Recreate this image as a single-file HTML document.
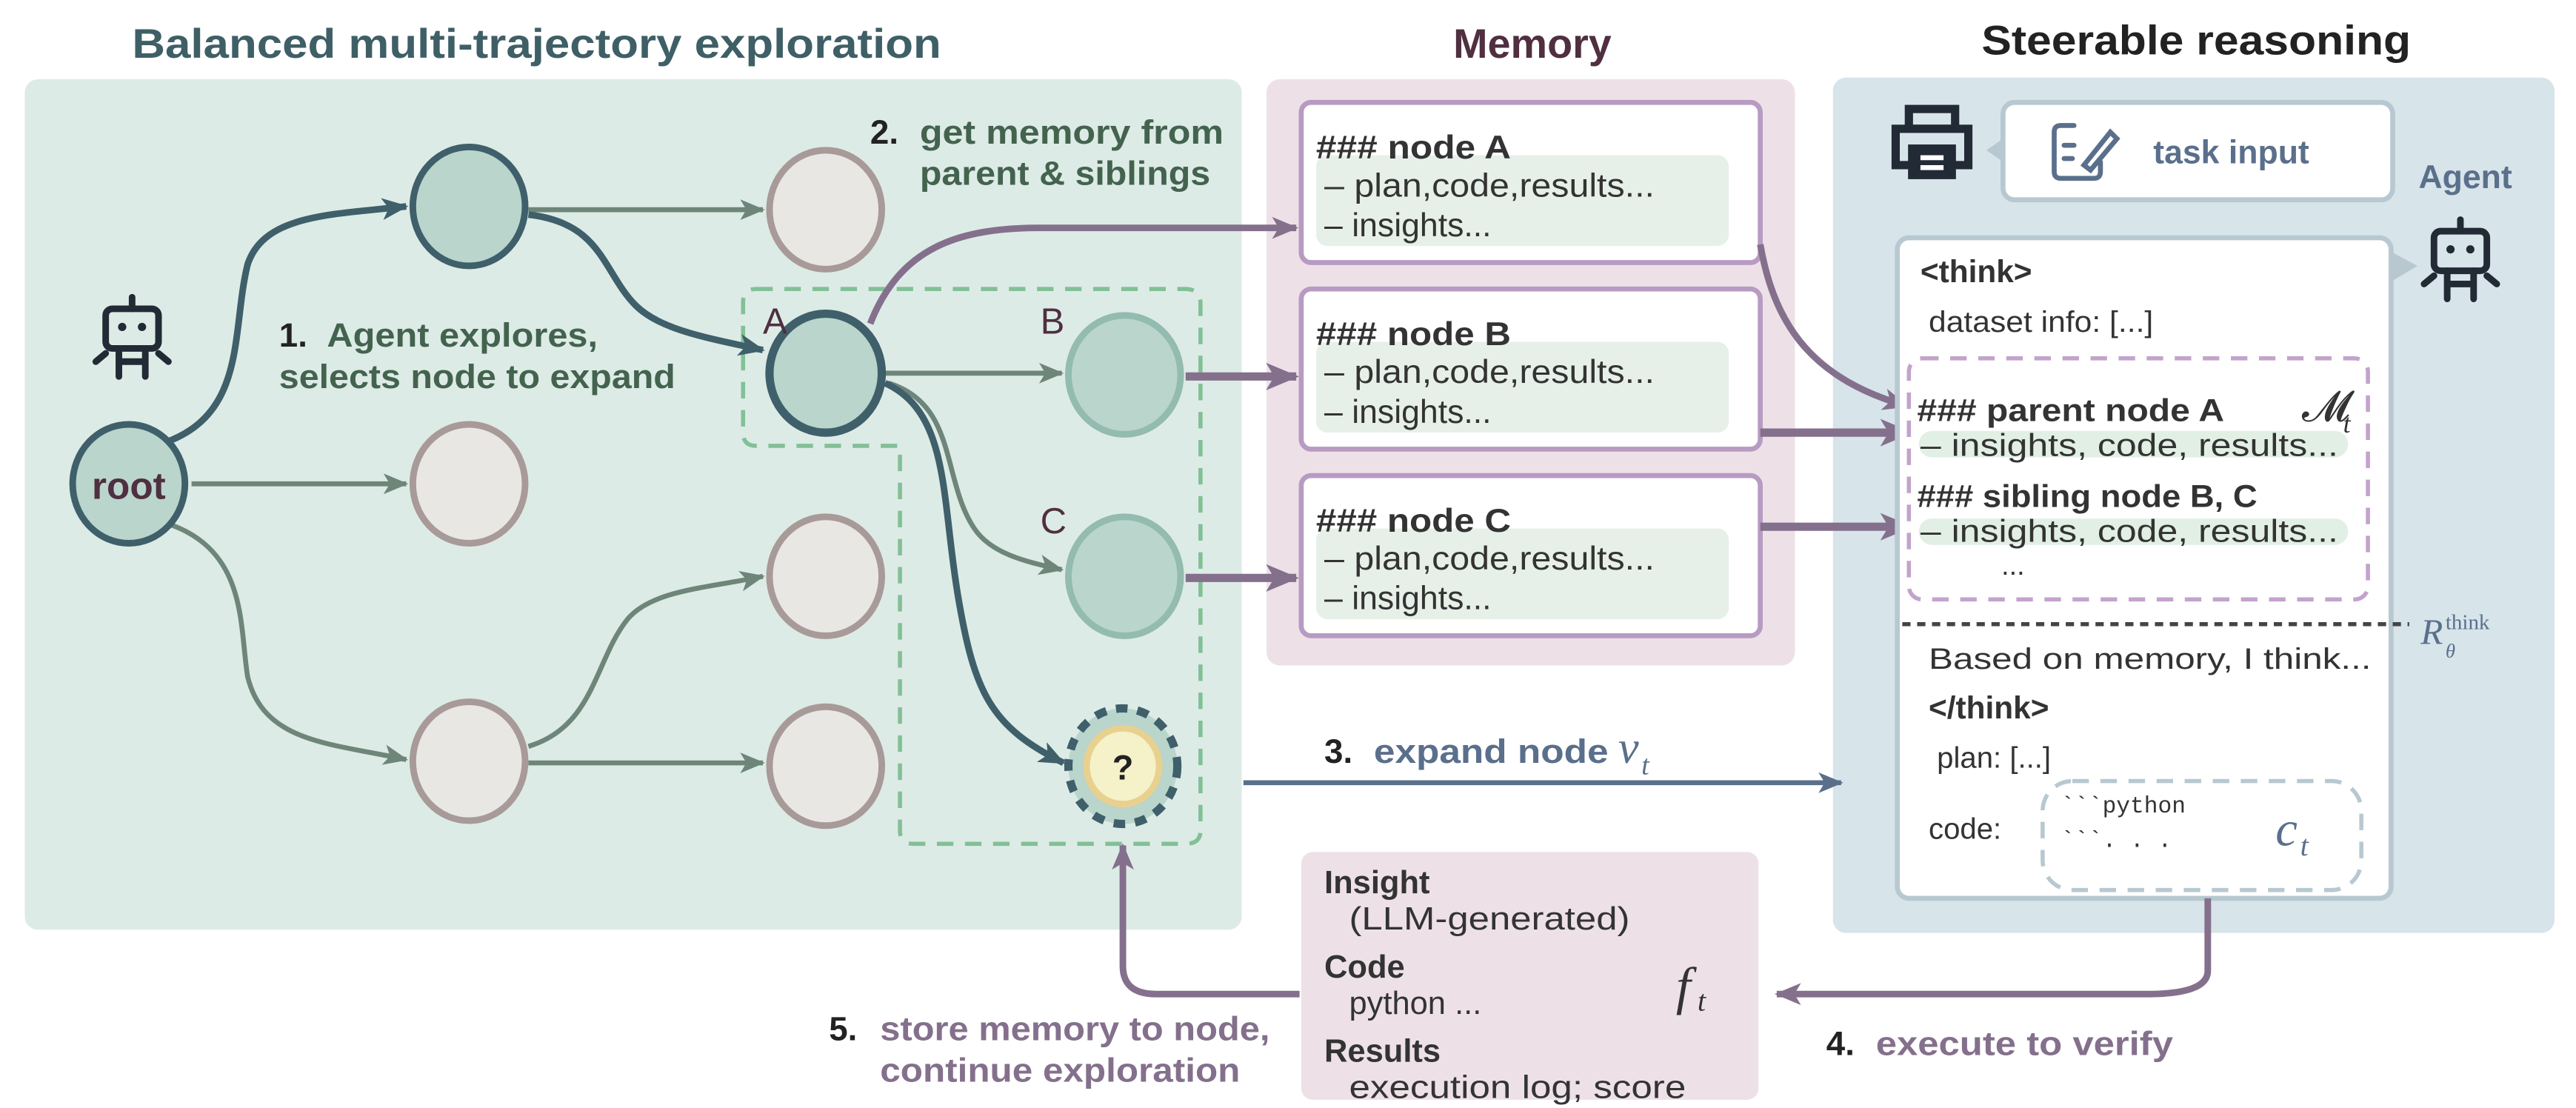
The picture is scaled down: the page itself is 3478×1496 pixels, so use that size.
<!DOCTYPE html>
<html><head><meta charset="utf-8"><style>
html,body{margin:0;padding:0;background:#fff;}
svg{display:block;}
text{font-family:"Liberation Sans",sans-serif;}
</style></head><body>
<svg width="3478" height="1496" viewBox="0 0 1560 671" preserveAspectRatio="none" xmlns="http://www.w3.org/2000/svg">
<defs>
<marker id="ad" viewBox="0 0 12 10" refX="11" refY="5" markerWidth="4" markerHeight="4" orient="auto" markerUnits="strokeWidth"><path d="M0,0 L12,5 L0,10 L3,5 z" fill="#3f5f6a"/></marker>
<marker id="ag" viewBox="0 0 12 10" refX="11" refY="5" markerWidth="5" markerHeight="5" orient="auto" markerUnits="strokeWidth"><path d="M0,0 L12,5 L0,10 L3,5 z" fill="#6e8679"/></marker>
<marker id="ap" viewBox="0 0 12 10" refX="11" refY="5" markerWidth="4" markerHeight="4" orient="auto" markerUnits="strokeWidth"><path d="M0,0 L12,5 L0,10 L3,5 z" fill="#84708c"/></marker>
<marker id="ab" viewBox="0 0 12 10" refX="11" refY="5" markerWidth="5" markerHeight="5" orient="auto" markerUnits="strokeWidth"><path d="M0,0 L12,5 L0,10 L3,5 z" fill="#5a6f8c"/></marker>
</defs>

<rect x="15" y="48" width="737" height="515" rx="8" fill="#ddebe6"/>
<rect x="767" y="48" width="320" height="355" rx="8" fill="#ede1e7"/>
<rect x="1110" y="47" width="437" height="518" rx="8" fill="#d7e4e9"/>

<text x="325" y="35" text-anchor="middle" font-size="25" font-weight="bold" fill="#3f5f66" textLength="490" lengthAdjust="spacingAndGlyphs">Balanced multi-trajectory exploration</text>
<text x="928" y="35" text-anchor="middle" font-size="25" font-weight="bold" fill="#4f2f40">Memory</text>
<text x="1330" y="33" text-anchor="middle" font-size="25" font-weight="bold" fill="#222" textLength="260" lengthAdjust="spacingAndGlyphs">Steerable reasoning</text>

<path d="M458,175 H718 Q727,175 727,184 V503 Q727,511 718,511 H553 Q545,511 545,503 V270 H458 Q450,270 450,262 V183 Q450,175 458,175 Z" fill="none" stroke="#82c096" stroke-width="2.5" stroke-dasharray="10,7"/>

<path d="M100,268 C150,250 140,200 150,160 C160,130 200,130 246,125" fill="none" stroke="#3f5f6a" stroke-width="4" marker-end="url(#ad)"/>
<path d="M116,293 H246" fill="none" stroke="#6e8679" stroke-width="3" marker-end="url(#ag)"/>
<path d="M104,318 C150,335 145,380 150,410 C160,450 200,450 246,460" fill="none" stroke="#6e8679" stroke-width="3" marker-end="url(#ag)"/>
<path d="M320,127 H462" fill="none" stroke="#6e8679" stroke-width="3" marker-end="url(#ag)"/>
<path d="M320,130 C365,135 365,165 385,185 C400,200 430,205 462,212" fill="none" stroke="#3f5f6a" stroke-width="4" marker-end="url(#ad)"/>
<path d="M320,452 C360,440 360,400 380,375 C395,357 430,356 462,349" fill="none" stroke="#6e8679" stroke-width="3" marker-end="url(#ag)"/>
<path d="M320,462 H462" fill="none" stroke="#6e8679" stroke-width="3" marker-end="url(#ag)"/>
<path d="M536,226 H643" fill="none" stroke="#6e8679" stroke-width="3" marker-end="url(#ag)"/>
<path d="M538,232 C580,245 570,290 590,320 C600,335 620,340 643,345" fill="none" stroke="#6e8679" stroke-width="3" marker-end="url(#ag)"/>
<path d="M536,232 C575,250 570,300 580,360 C590,420 600,440 644,462" fill="none" stroke="#3f5f6a" stroke-width="4" marker-end="url(#ad)"/>

<path d="M527,196 C545,150 580,138 630,138 H785" fill="none" stroke="#84708c" stroke-width="4" marker-end="url(#ap)"/>
<path d="M718,228 H785" fill="none" stroke="#84708c" stroke-width="5" marker-end="url(#ap)"/>
<path d="M718,350 H785" fill="none" stroke="#84708c" stroke-width="5" marker-end="url(#ap)"/>

<g stroke-width="4">
<ellipse cx="78" cy="293" rx="34" ry="36" fill="#b9d5cc" stroke="#3f5f6a"/>
<ellipse cx="284" cy="125" rx="34" ry="36" fill="#b9d5cc" stroke="#3f5f6a"/>
<ellipse cx="500" cy="127" rx="34" ry="36" fill="#e8e7e4" stroke="#a89a98"/>
<ellipse cx="284" cy="293" rx="34" ry="36" fill="#e8e7e4" stroke="#a89a98"/>
<ellipse cx="500" cy="349" rx="34" ry="36" fill="#e8e7e4" stroke="#a89a98"/>
<ellipse cx="284" cy="461" rx="34" ry="36" fill="#e8e7e4" stroke="#a89a98"/>
<ellipse cx="500" cy="464" rx="34" ry="36" fill="#e8e7e4" stroke="#a89a98"/>
<ellipse cx="500" cy="226" rx="34" ry="36" fill="#b9d5cc" stroke="#3f5f6a" stroke-width="5"/>
<ellipse cx="681" cy="227" rx="34" ry="36" fill="#b9d5cc" stroke="#93bbaf"/>
<ellipse cx="681" cy="349" rx="34" ry="36" fill="#b9d5cc" stroke="#93bbaf"/>
</g>
<ellipse cx="680" cy="464" rx="33" ry="35" fill="#b9d5cc" stroke="#3f5f6a" stroke-width="5" stroke-dasharray="7,6"/>
<ellipse cx="680" cy="464" rx="22" ry="23" fill="#f5f1c8" stroke="#e8d08e" stroke-width="4"/>
<text x="680" y="472" text-anchor="middle" font-size="21" font-weight="bold" fill="#222">?</text>
<text x="78" y="302" text-anchor="middle" font-size="23" font-weight="bold" fill="#4f2f40">root</text>
<text x="462" y="202" font-size="22" fill="#4f2f40">A</text>
<text x="630" y="202" font-size="22" fill="#4f2f40">B</text>
<text x="630" y="323" font-size="22" fill="#4f2f40">C</text>

<g fill="none" stroke="#222a35" stroke-width="4" stroke-linecap="round">
<rect x="64" y="187" width="32" height="24" rx="4"/>
<line x1="80" y1="180" x2="80" y2="187"/>
<path d="M72,211 V228 M88,211 V228 M72,219 H88 M64,214 L58,219 M96,214 L102,219"/>
</g>
<circle cx="74" cy="198" r="2.5" fill="#222a35"/><circle cx="86" cy="198" r="2.5" fill="#222a35"/>
<g transform="translate(1410,-47)">
<g fill="none" stroke="#222a35" stroke-width="4" stroke-linecap="round">
<rect x="64" y="187" width="32" height="24" rx="4"/>
<line x1="80" y1="180" x2="80" y2="187"/>
<path d="M72,211 V228 M88,211 V228 M72,219 H88 M64,214 L58,219 M96,214 L102,219"/>
</g>
<circle cx="74" cy="198" r="2.5" fill="#222a35"/><circle cx="86" cy="198" r="2.5" fill="#222a35"/>
</g>

<g font-size="20.5" font-weight="bold">
<text x="169" y="210" fill="#222">1.</text>
<text x="198" y="210" fill="#44634f" textLength="164" lengthAdjust="spacingAndGlyphs">Agent explores,</text>
<text x="169" y="235" fill="#44634f" textLength="240" lengthAdjust="spacingAndGlyphs">selects node to expand</text>
<text x="527" y="87" fill="#222">2.</text>
<text x="557" y="87" fill="#44634f" textLength="184" lengthAdjust="spacingAndGlyphs">get memory from</text>
<text x="557" y="112" fill="#44634f" textLength="176" lengthAdjust="spacingAndGlyphs">parent &amp; siblings</text>
<text x="502" y="630" fill="#222">5.</text>
<text x="533" y="630" fill="#84708c" textLength="236" lengthAdjust="spacingAndGlyphs">store memory to node,</text>
<text x="533" y="655" fill="#84708c" textLength="218" lengthAdjust="spacingAndGlyphs">continue exploration</text>
</g>

<g font-size="20" fill="#333">
<rect x="788" y="62" width="278" height="97" rx="6" fill="#fff" stroke="#b79bc2" stroke-width="3"/>
<rect x="797" y="94" width="250" height="55" rx="7" fill="#e6f0e8"/>
<text x="797" y="96" font-weight="bold" textLength="118" lengthAdjust="spacingAndGlyphs">### node A</text>
<text x="802" y="119" textLength="200" lengthAdjust="spacingAndGlyphs">– plan,code,results...</text>
<text x="802" y="143">– insights...</text>
<rect x="788" y="175" width="278" height="97" rx="6" fill="#fff" stroke="#b79bc2" stroke-width="3"/>
<rect x="797" y="207" width="250" height="55" rx="7" fill="#e6f0e8"/>
<text x="797" y="209" font-weight="bold" textLength="118" lengthAdjust="spacingAndGlyphs">### node B</text>
<text x="802" y="232" textLength="200" lengthAdjust="spacingAndGlyphs">– plan,code,results...</text>
<text x="802" y="256">– insights...</text>
<rect x="788" y="288" width="278" height="97" rx="6" fill="#fff" stroke="#b79bc2" stroke-width="3"/>
<rect x="797" y="320" width="250" height="55" rx="7" fill="#e6f0e8"/>
<text x="797" y="322" font-weight="bold" textLength="118" lengthAdjust="spacingAndGlyphs">### node C</text>
<text x="802" y="345" textLength="200" lengthAdjust="spacingAndGlyphs">– plan,code,results...</text>
<text x="802" y="369">– insights...</text>
</g>
<path d="M1066,148 C1075,200 1100,230 1155,246" fill="none" stroke="#84708c" stroke-width="4" marker-end="url(#ap)"/>
<path d="M1066,262 H1157" fill="none" stroke="#84708c" stroke-width="5" marker-end="url(#ap)"/>
<path d="M1066,319 H1157" fill="none" stroke="#84708c" stroke-width="5" marker-end="url(#ap)"/>

<g fill="none" stroke="#222a35" stroke-width="5">
<rect x="1156" y="66" width="28" height="12"/>
<rect x="1148" y="78" width="44" height="22"/>
<rect x="1158" y="90" width="24" height="16" fill="#222a35"/>
</g>
<rect x="1163" y="94" width="14" height="3" fill="#fff"/><rect x="1163" y="100" width="14" height="3" fill="#fff"/>
<path d="M1203,91 L1213,84 L1213,98 Z" fill="#b7c8d1"/>
<rect x="1213" y="62" width="236" height="59" rx="7" fill="#fff" stroke="#b7c8d1" stroke-width="3"/>
<g fill="none" stroke="#5a6f8c" stroke-width="3" stroke-linecap="round">
<path d="M1256,76 H1248 Q1244,76 1244,80 V104 Q1244,108 1248,108 H1268 Q1272,108 1272,104 V98"/>
<path d="M1262,100 L1278,80 L1282,84 L1266,103 Z"/>
<path d="M1250,88 H1256 M1250,96 H1255"/>
</g>
<text x="1304" y="99" font-size="20" font-weight="bold" fill="#5a6f8c">task input</text>
<text x="1493" y="114" text-anchor="middle" font-size="20" font-weight="bold" fill="#5a6f8c">Agent</text>

<path d="M1449,153 L1464,161 L1449,170 Z" fill="#b7c8d1"/>
<rect x="1149" y="144" width="299" height="400" rx="7" fill="#fff" stroke="#b7c8d1" stroke-width="3"/>
<text x="1163" y="171" font-size="19" font-weight="bold" fill="#333">&lt;think&gt;</text>
<text x="1168" y="201" font-size="18" fill="#333" textLength="136" lengthAdjust="spacingAndGlyphs">dataset info: [...]</text>
<rect x="1156" y="217" width="278" height="146" rx="8" fill="none" stroke="#c3a3cc" stroke-width="2.5" stroke-dasharray="10,7"/>
<rect x="1162" y="261" width="260" height="16" rx="8" fill="#e2efe5"/>
<rect x="1162" y="314" width="260" height="16" rx="8" fill="#e2efe5"/>
<text x="1161" y="255" font-size="19" font-weight="bold" fill="#333" textLength="186" lengthAdjust="spacingAndGlyphs">### parent node A</text>
<text x="1163" y="276" font-size="19" fill="#333" textLength="253" lengthAdjust="spacingAndGlyphs">– insights, code, results...</text>
<text x="1161" y="307" font-size="19" font-weight="bold" fill="#333" textLength="206" lengthAdjust="spacingAndGlyphs">### sibling node B, C</text>
<text x="1163" y="328" font-size="19" fill="#333" textLength="253" lengthAdjust="spacingAndGlyphs">– insights, code, results...</text>
<text x="1212" y="348" font-size="17" fill="#333">...</text>
<text x="1394" y="255" font-size="26" fill="#333" style="font-family:'Liberation Serif',serif">𝓜</text>
<text x="1419" y="262" font-size="16" font-style="italic" fill="#333" style="font-family:'Liberation Serif',serif">t</text>
<line x1="1152" y1="378" x2="1459" y2="378" stroke="#444" stroke-width="2.5" stroke-dasharray="5,4"/>
<text x="1466" y="390" font-size="22" font-style="italic" fill="#5a6f8c" style="font-family:'Liberation Serif',serif">R</text>
<text x="1481" y="381" font-size="13" fill="#5a6f8c" style="font-family:'Liberation Serif',serif">think</text>
<text x="1481" y="398" font-size="12" font-style="italic" fill="#5a6f8c" style="font-family:'Liberation Serif',serif">θ</text>
<text x="1168" y="405" font-size="18" fill="#333" textLength="268" lengthAdjust="spacingAndGlyphs">Based on memory, I think...</text>
<text x="1168" y="435" font-size="19" font-weight="bold" fill="#333">&lt;/think&gt;</text>
<text x="1173" y="465" font-size="18" fill="#333">plan:   [...]</text>
<text x="1168" y="508" font-size="18" fill="#333">code:</text>
<rect x="1237" y="473" width="193" height="66" rx="18" fill="none" stroke="#b7c8d1" stroke-width="2.5" stroke-dasharray="10,7"/>
<text x="1248" y="492" font-size="14" fill="#333" style="font-family:'Liberation Mono',monospace">&#96;&#96;&#96;python</text>
<text x="1248" y="513" font-size="14" fill="#333" style="font-family:'Liberation Mono',monospace">&#96;&#96;&#96;. . .</text>
<text x="1378" y="512" font-size="30" font-style="italic" fill="#5a6f8c" style="font-family:'Liberation Serif',serif">c</text>
<text x="1393" y="518" font-size="18" font-style="italic" fill="#5a6f8c" style="font-family:'Liberation Serif',serif">t</text>

<path d="M753,474 H1115" fill="none" stroke="#5a6f8c" stroke-width="3" marker-end="url(#ab)"/>
<text x="802" y="462" font-size="20.5" font-weight="bold" fill="#222">3.</text>
<text x="832" y="462" font-size="20.5" font-weight="bold" fill="#5a6f8c" textLength="142" lengthAdjust="spacingAndGlyphs">expand node</text>
<text x="980" y="462" font-size="28" font-style="italic" fill="#5a6f8c" style="font-family:'Liberation Serif',serif">v</text>
<text x="994" y="469" font-size="17" font-style="italic" fill="#5a6f8c" style="font-family:'Liberation Serif',serif">t</text>

<rect x="788" y="516" width="277" height="150" rx="7" fill="#ede1e7"/>
<g font-size="19.5" fill="#333">
<text x="802" y="541" font-weight="bold">Insight</text>
<text x="817" y="563" textLength="170" lengthAdjust="spacingAndGlyphs">(LLM-generated)</text>
<text x="802" y="592" font-weight="bold">Code</text>
<text x="817" y="614">python ...</text>
<text x="802" y="643" font-weight="bold">Results</text>
<text x="817" y="665" textLength="204" lengthAdjust="spacingAndGlyphs">execution log; score</text>
</g>
<text x="1015" y="608" font-size="32" font-style="italic" fill="#333" style="font-family:'Liberation Serif',serif">f</text>
<text x="1028" y="612" font-size="18" font-style="italic" fill="#333" style="font-family:'Liberation Serif',serif">t</text>

<path d="M1337,544 V588 Q1337,602 1300,602 H1076" fill="none" stroke="#84708c" stroke-width="4" marker-end="url(#ap)"/>
<text x="1106" y="639" font-size="20.5" font-weight="bold" fill="#222">4.</text>
<text x="1136" y="639" font-size="20.5" font-weight="bold" fill="#84708c" textLength="180" lengthAdjust="spacingAndGlyphs">execute to verify</text>

<path d="M787,602 H700 Q680,602 680,585 V512" fill="none" stroke="#84708c" stroke-width="4" marker-end="url(#ap)"/>
</svg>
</body></html>
